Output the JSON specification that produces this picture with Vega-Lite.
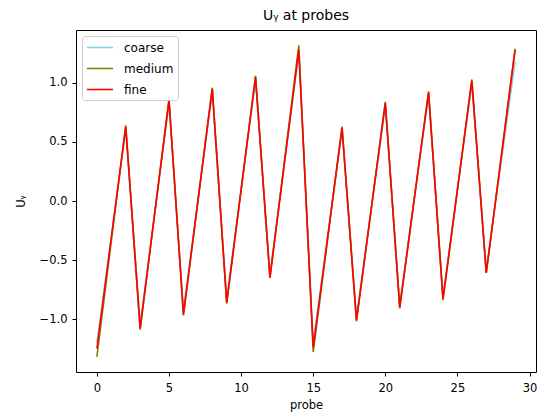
{
  "$schema": "https://vega.github.io/schema/vega-lite/v6.json",
  "width": 460,
  "height": 342,
  "autosize": {"type": "none"},
  "padding": {"left": 76, "top": 30, "right": 5, "bottom": 44},
  "background": "white",
  "title": {"text": "Uᵧ at probes", "font": "DejaVu Sans", "fontSize": 14, "fontWeight": "normal", "color": "black", "offset": 7},
  "config": {
    "view": {"stroke": "black", "strokeWidth": 1},
    "axis": {"labelFont": "DejaVu Sans", "titleFont": "DejaVu Sans", "labelFontSize": 11.5, "titleFontSize": 11.5, "titleFontWeight": "normal", "labelColor": "black", "titleColor": "black", "tickColor": "black", "domain": false, "grid": false, "tickSize": 4}
  },
  "data": {"values": [
    {"probe": 0, "series": "coarse", "Uy": -1.20},
    {"probe": 2, "series": "coarse", "Uy": 0.60},
    {"probe": 3, "series": "coarse", "Uy": -1.04},
    {"probe": 5, "series": "coarse", "Uy": 0.82},
    {"probe": 6, "series": "coarse", "Uy": -0.92},
    {"probe": 8, "series": "coarse", "Uy": 0.92},
    {"probe": 9, "series": "coarse", "Uy": -0.82},
    {"probe": 11, "series": "coarse", "Uy": 1.02},
    {"probe": 12, "series": "coarse", "Uy": -0.62},
    {"probe": 14, "series": "coarse", "Uy": 1.25},
    {"probe": 15, "series": "coarse", "Uy": -1.20},
    {"probe": 17, "series": "coarse", "Uy": 0.60},
    {"probe": 18, "series": "coarse", "Uy": -0.98},
    {"probe": 20, "series": "coarse", "Uy": 0.80},
    {"probe": 21, "series": "coarse", "Uy": -0.87},
    {"probe": 23, "series": "coarse", "Uy": 0.89},
    {"probe": 24, "series": "coarse", "Uy": -0.80},
    {"probe": 26, "series": "coarse", "Uy": 0.99},
    {"probe": 27, "series": "coarse", "Uy": -0.58},
    {"probe": 29, "series": "coarse", "Uy": 1.18},
    {"probe": 0, "series": "medium", "Uy": -1.32},
    {"probe": 2, "series": "medium", "Uy": 0.64},
    {"probe": 3, "series": "medium", "Uy": -1.09},
    {"probe": 5, "series": "medium", "Uy": 0.87},
    {"probe": 6, "series": "medium", "Uy": -0.97},
    {"probe": 8, "series": "medium", "Uy": 0.96},
    {"probe": 9, "series": "medium", "Uy": -0.87},
    {"probe": 11, "series": "medium", "Uy": 1.06},
    {"probe": 12, "series": "medium", "Uy": -0.65},
    {"probe": 14, "series": "medium", "Uy": 1.32},
    {"probe": 15, "series": "medium", "Uy": -1.28},
    {"probe": 17, "series": "medium", "Uy": 0.63},
    {"probe": 18, "series": "medium", "Uy": -1.02},
    {"probe": 20, "series": "medium", "Uy": 0.84},
    {"probe": 21, "series": "medium", "Uy": -0.91},
    {"probe": 23, "series": "medium", "Uy": 0.93},
    {"probe": 24, "series": "medium", "Uy": -0.84},
    {"probe": 26, "series": "medium", "Uy": 1.03},
    {"probe": 27, "series": "medium", "Uy": -0.61},
    {"probe": 29, "series": "medium", "Uy": 1.29},
    {"probe": 0, "series": "fine", "Uy": -1.25},
    {"probe": 2, "series": "fine", "Uy": 0.63},
    {"probe": 3, "series": "fine", "Uy": -1.08},
    {"probe": 5, "series": "fine", "Uy": 0.85},
    {"probe": 6, "series": "fine", "Uy": -0.96},
    {"probe": 8, "series": "fine", "Uy": 0.95},
    {"probe": 9, "series": "fine", "Uy": -0.86},
    {"probe": 11, "series": "fine", "Uy": 1.05},
    {"probe": 12, "series": "fine", "Uy": -0.65},
    {"probe": 14, "series": "fine", "Uy": 1.28},
    {"probe": 15, "series": "fine", "Uy": -1.24},
    {"probe": 17, "series": "fine", "Uy": 0.62},
    {"probe": 18, "series": "fine", "Uy": -1.01},
    {"probe": 20, "series": "fine", "Uy": 0.83},
    {"probe": 21, "series": "fine", "Uy": -0.90},
    {"probe": 23, "series": "fine", "Uy": 0.92},
    {"probe": 24, "series": "fine", "Uy": -0.83},
    {"probe": 26, "series": "fine", "Uy": 1.02},
    {"probe": 27, "series": "fine", "Uy": -0.61},
    {"probe": 29, "series": "fine", "Uy": 1.28}
  ]},
  "mark": {"type": "line", "strokeWidth": 1.6, "clip": true},
  "encoding": {
    "x": {"field": "probe", "type": "quantitative", "title": "probe",
      "scale": {"domain": [-1.45, 30.45], "nice": false, "zero": false},
      "axis": {"values": [0, 5, 10, 15, 20, 25, 30], "labelPadding": 6, "titlePadding": 6}},
    "y": {"field": "Uy", "type": "quantitative", "title": "Uᵧ",
      "scale": {"domain": [-1.449, 1.449], "nice": false, "zero": false},
      "axis": {"values": [-1.0, -0.5, 0.0, 0.5, 1.0], "format": ".1f", "labelPadding": 5, "titlePadding": 13}},
    "color": {"field": "series", "type": "nominal",
      "scale": {"domain": ["coarse", "medium", "fine"], "range": ["#87ceeb", "#808000", "#ff0000"]},
      "legend": {"title": null, "orient": "top-left", "offset": 6, "padding": 4, "fillColor": "white", "strokeColor": "#cccccc", "cornerRadius": 3,
        "symbolType": "M-1,0H3", "symbolSize": 169, "symbolStrokeWidth": 1.6, "labelFont": "DejaVu Sans", "labelFontSize": 12, "labelColor": "black", "rowPadding": 7, "labelOffset": 23}},
    "order": {"field": "probe", "type": "quantitative"}
  }
}
